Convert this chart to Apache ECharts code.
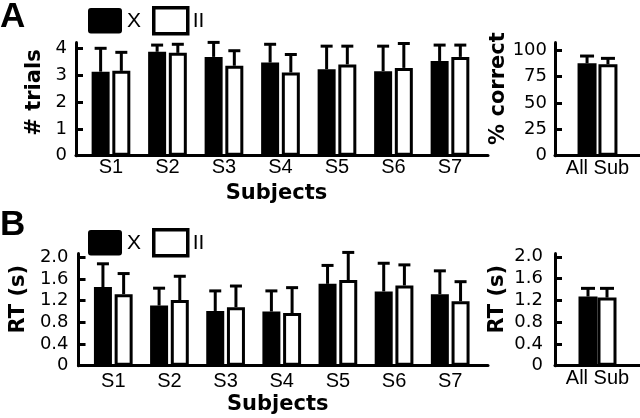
<!DOCTYPE html>
<html>
<head>
<meta charset="utf-8">
<script src="https://cdn.jsdelivr.net/npm/echarts@6/dist/echarts.min.js"></script>
<style>html,body{margin:0;padding:0;background:#fff}#c{width:640px;height:418px}</style>
</head>
<body>
<div id="c"></div>
<script>
// ---- data ----
const subjects = ['S1','S2','S3','S4','S5','S6','S7'];
const summaryLabel = ['All Sub'];
const trialTicks = [0, 1, 2, 3, 4];
const pctTicks = [0, 25, 50, 75, 100];
const rtTicks = [0, 0.4, 0.8, 1.2, 1.6, 2.0];

const trialsX     = [3.13, 3.87, 3.68, 3.47, 3.22, 3.15, 3.53];
const trialsXErr  = [0.87, 0.25, 0.54, 0.68, 0.86, 0.93, 0.59];
const trialsII    = [3.16, 3.83, 3.35, 3.10, 3.40, 3.27, 3.68];
const trialsIIErr = [0.69, 0.32, 0.56, 0.67, 0.68, 0.91, 0.44];

const pctX = [87.4], pctXErr = [6.9];
const pctII = [86.5], pctIIErr = [5.6];

const rtX     = [1.45, 1.11, 1.01, 1.00, 1.51, 1.37, 1.32];
const rtXErr  = [0.43, 0.32, 0.37, 0.38, 0.34, 0.52, 0.43];
const rtII    = [1.32, 1.21, 1.08, 0.97, 1.58, 1.48, 1.19];
const rtIIErr = [0.38, 0.44, 0.39, 0.47, 0.51, 0.38, 0.36];

const rtAllX = [1.27], rtAllXErr = [0.15];
const rtAllII = [1.25], rtAllIIErr = [0.17];

// ---- helpers ----
const subjPos = subjects.map((s, i) => i + 1);
const BLACK = '#000';
const tickFont = {fontFamily: 'DejaVu Sans', fontSize: 18, color: BLACK};
const catFont = {fontFamily: 'Liberation Sans', fontSize: 20, color: BLACK};
const nameFont = {fontFamily: 'DejaVu Sans', fontWeight: 'bold', fontSize: 21, color: BLACK};

function errRender(offset, cap) {
  return function (params, api) {
    const x = api.value(0), m = api.value(1), e = api.value(2);
    const p0 = api.coord([x, m]);
    const p1 = api.coord([x, m + e]);
    const cx = p0[0] + offset;
    return {
      type: 'group',
      children: [
        {type: 'line', shape: {x1: cx, y1: p0[1], x2: cx, y2: p1[1]}, style: {stroke: BLACK, lineWidth: 3}},
        {type: 'line', shape: {x1: cx - cap / 2, y1: p1[1], x2: cx + cap / 2, y2: p1[1]}, style: {stroke: BLACK, lineWidth: 3}}
      ]
    };
  };
}

function barSeries(name, xi, data, white, bw, gap) {
  return {
    type: 'bar', name: name, xAxisIndex: xi, yAxisIndex: xi,
    data: data, barWidth: bw, barGap: gap,
    itemStyle: white ? {color: '#fff', borderColor: BLACK, borderWidth: 3} : {color: BLACK},
    emphasis: {disabled: true}, z: 2
  };
}
function errSeries(xi, data, offset, cap) {
  return {
    type: 'custom', name: 'err' + xi + offset, xAxisIndex: xi, yAxisIndex: xi,
    data: data, encode: {x: 0, y: 1}, renderItem: errRender(offset, cap), z: 3, silent: true
  };
}

function subjXAxis(gi, margin, nameGap) {
  return {
    gridIndex: gi, type: 'value', min: 0.381, max: 7.673,
    axisLine: {show: true, onZero: false, lineStyle: {color: BLACK, width: 3}},
    axisTick: {show: false}, splitLine: {show: false},
    axisLabel: Object.assign({customValues: subjPos, margin: margin,
      formatter: v => subjects[Math.round(v) - 1]}, catFont),
    name: 'Subjects', nameLocation: 'middle', nameGap: nameGap,
    nameTextStyle: Object.assign({padding: [0, 11, 0, 0]}, nameFont)
  };
}
function sumXAxis(gi, margin) {
  return {
    gridIndex: gi, type: 'category', data: summaryLabel,
    axisLine: {show: true, onZero: false, lineStyle: {color: BLACK, width: 3}},
    axisTick: {show: false}, splitLine: {show: false},
    axisLabel: Object.assign({margin: margin}, catFont)
  };
}
function yAx(gi, max, ticks, margin, name, nameGap, shift, fmt) {
  return {
    gridIndex: gi, type: 'value', min: 0, max: max,
    axisLine: {show: true, onZero: false, lineStyle: {color: BLACK, width: 3}},
    axisTick: {show: true, inside: true, length: 7, customValues: ticks, lineStyle: {color: BLACK, width: 3}},
    splitLine: {show: false},
    axisLabel: Object.assign({customValues: ticks, margin: margin, formatter: fmt}, tickFont),
    name: name, nameLocation: 'middle', nameGap: nameGap,
    nameTextStyle: Object.assign({padding: [0, 0, 0, shift]}, nameFont)
  };
}
const intFmt = v => String(v);
const rtFmt = v => (v === 0 ? '0' : v.toFixed(1));

const roundBox = 'path://M3,0 H32 Q35,0 35,3 V23 Q35,26 32,26 H3 Q0,26 0,23 V3 Q0,0 3,0 Z';
function legendAt(top) {
  return {
    left: 88, top: top, padding: 0, itemWidth: 34, itemHeight: 26, itemGap: 11,
    selectedMode: false,
    textStyle: {fontFamily: 'Liberation Sans', fontSize: 21, color: BLACK},
    data: [
      {name: 'X', icon: roundBox, itemStyle: {color: BLACK, borderWidth: 0}},
      {name: 'II', icon: 'rect', itemStyle: {color: '#fff', borderColor: BLACK, borderWidth: 3.5}}
    ]
  };
}

const option = {
  animation: false,
  backgroundColor: '#fff',
  title: [
    {text: 'A', left: 0, top: 0, padding: 0, textStyle: {fontFamily: 'Liberation Sans', fontWeight: 'bold', fontSize: 35, color: BLACK}},
    {text: 'B', left: 0, top: 208, padding: 0, textStyle: {fontFamily: 'Liberation Sans', fontWeight: 'bold', fontSize: 35, color: BLACK}}
  ],
  legend: [legendAt(6), legendAt(228)],
  grid: [
    {left: 76, top: 42.4, width: 412, height: 113.3},
    {left: 555, top: 42.4, width: 85, height: 113.3},
    {left: 76, top: 253.5, width: 412, height: 112.2},
    {left: 555, top: 253.5, width: 85, height: 112.2}
  ],
  xAxis: [subjXAxis(0, 2, 27), sumXAxis(1, 3), subjXAxis(2, 6, 28), sumXAxis(3, 3)],
  yAxis: [
    yAx(0, 4.22, trialTicks, 9, '# trials', 31, 13, intFmt),
    yAx(1, 107.2, pctTicks, 8, '% correct', 44, 21, intFmt),
    yAx(2, 2.07, rtTicks, 10, 'RT (s)', 49, 21, rtFmt),
    yAx(3, 2.06, rtTicks, 12, 'RT (s)', 47, 21, rtFmt)
  ],
  series: [
    barSeries('X', 0, subjPos.map((p, i) => [p, trialsX[i]]), false, 18, '15%'),
    barSeries('II', 0, subjPos.map((p, i) => [p, trialsII[i]]), true, 18, '15%'),
    errSeries(0, subjPos.map((p, i) => [p, trialsX[i], trialsXErr[i]]), -10.35, 12),
    errSeries(0, subjPos.map((p, i) => [p, trialsII[i], trialsIIErr[i]]), 10.35, 12),

    barSeries('X', 1, pctX, false, 19, '10%'),
    barSeries('II', 1, pctII, true, 19, '10%'),
    errSeries(1, [[0, pctX[0], pctXErr[0]]], -10.45, 14),
    errSeries(1, [[0, pctII[0], pctIIErr[0]]], 10.45, 14),

    barSeries('X', 2, subjPos.map((p, i) => [p, rtX[i]]), false, 18, '15%'),
    barSeries('II', 2, subjPos.map((p, i) => [p, rtII[i]]), true, 18, '15%'),
    errSeries(2, subjPos.map((p, i) => [p, rtX[i], rtXErr[i]]), -10.35, 12),
    errSeries(2, subjPos.map((p, i) => [p, rtII[i], rtIIErr[i]]), 10.35, 12),

    barSeries('X', 3, rtAllX, false, 19, '0%'),
    barSeries('II', 3, rtAllII, true, 19, '0%'),
    errSeries(3, [[0, rtAllX[0], rtAllXErr[0]]], -9.5, 14),
    errSeries(3, [[0, rtAllII[0], rtAllIIErr[0]]], 9.5, 14)
  ]
};

const chart = echarts.init(document.getElementById('c'), null, {renderer: 'canvas'});
chart.setOption(option);
</script>
</body>
</html>
